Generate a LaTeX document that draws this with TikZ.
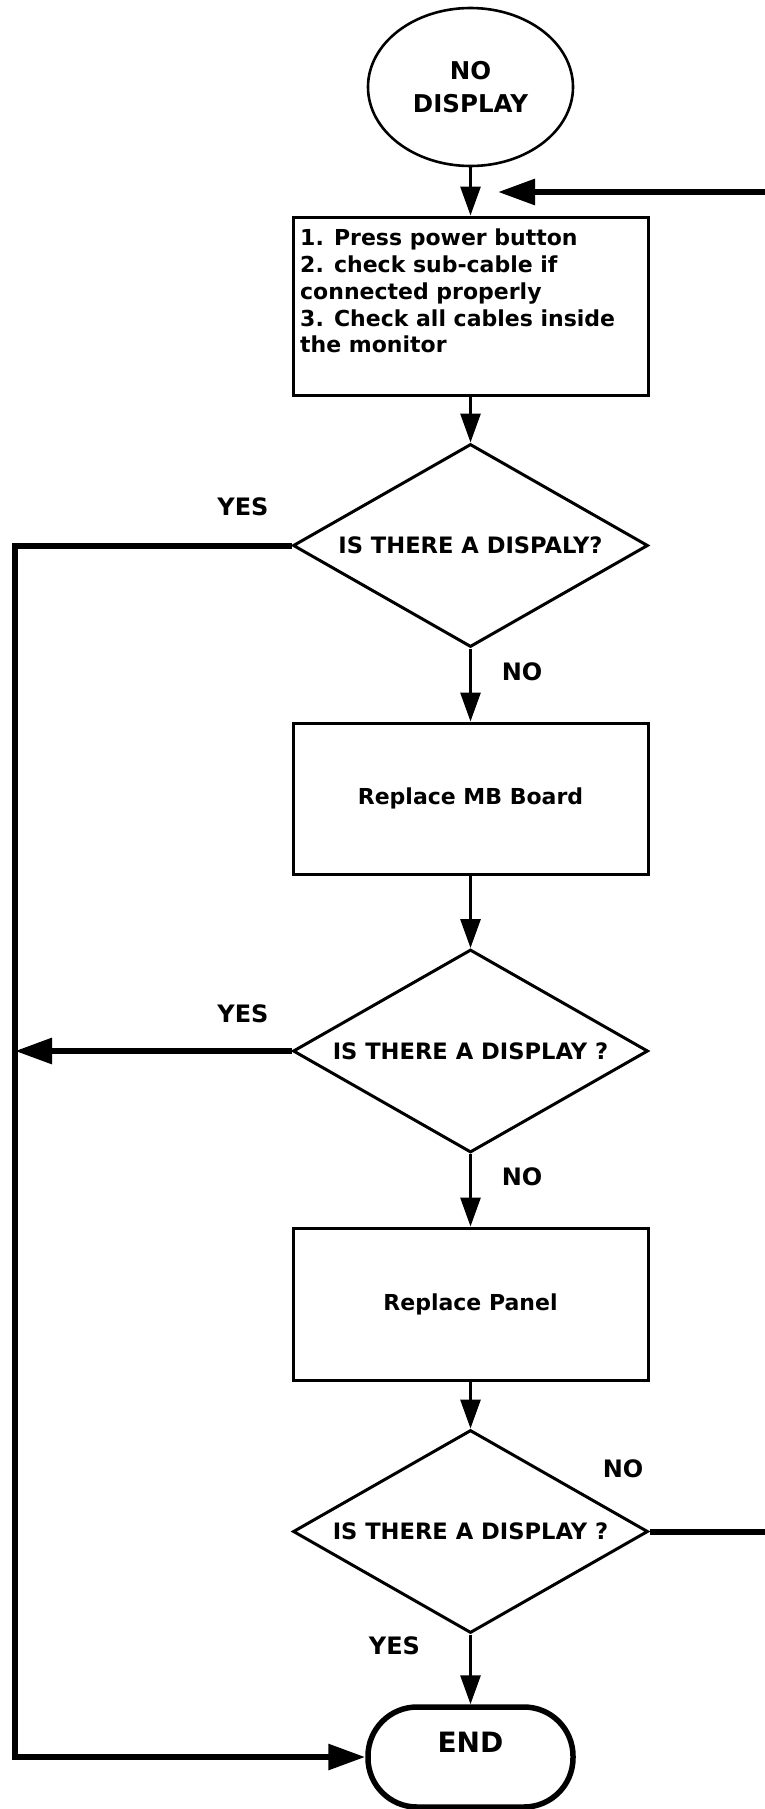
\documentclass[tikz,border=0pt]{standalone}
\usepackage{fontspec}
\setmainfont{DejaVu Sans}
\usetikzlibrary{shapes.geometric,arrows.meta}
\begin{document}
\begin{tikzpicture}[x=1pt,y=-1pt,
  procbox/.style={draw, rectangle, line width=3pt, minimum width=355pt, inner sep=0pt,
    font=\bfseries\fontsize{22}{26.7}\selectfont},
  decision/.style={draw, diamond, aspect=1.75, inner sep=0pt, line width=3pt,
    minimum width=355pt, minimum height=203pt, font=\bfseries\fontsize{22.6}{26}\selectfont},
  startnode/.style={draw, ellipse, line width=2.6pt, minimum width=205pt, minimum height=158pt,
    inner sep=0pt, align=center, font=\bfseries\fontsize{24.5}{33}\selectfont},
  endnode/.style={draw, rectangle, rounded corners=49pt, line width=5.5pt, minimum width=205pt,
    minimum height=100pt, inner sep=0pt, text height=20pt, text depth=30pt,
    font=\bfseries\fontsize{28}{32}\selectfont},
  lbl/.style={inner sep=0pt, font=\bfseries\fontsize{24}{28}\selectfont},
  flowarrow/.style={line width=3pt, -{Triangle[length=29pt,width=20pt]}},
  looparrow/.style={line width=6pt, -{Triangle[length=37pt,width=25pt]}},
  loopline/.style={line width=6pt}]

\fill[white] (0,0) rectangle (765,1809);
\useasboundingbox (0,0) rectangle (765,1809);

% nodes
\node[startnode] (start) at (470.5,87) {NO\\DISPLAY};
\node[procbox, minimum height=178pt] (b1) at (470.5,306) {};
\node[anchor=north west, inner sep=0pt, align=left,
  font=\bfseries\fontsize{22}{26.7}\selectfont] (b1text) at (300,229)
  {1. Press power button\\2. check sub-cable if\\connected properly\\3. Check all cables inside\\the monitor};
\node[decision] (d1) at (470.5,545.5) {IS THERE A DISPALY?};
\node[procbox, minimum height=151pt] (b2) at (470.5,798.5) {Replace MB Board};
\node[decision] (d2) at (470.5,1051) {IS THERE A DISPLAY ?};
\node[procbox, minimum height=152pt] (b3) at (470.5,1304) {Replace Panel};
\node[decision] (d3) at (470.5,1531.5) {IS THERE A DISPLAY ?};
\node[endnode] (end) at (470.5,1757) {END};

% labels
\node[lbl] (yes1) at (243,507) {YES};
\node[lbl] (no1) at (522,671.5) {NO};
\node[lbl] (yes2) at (243,1013.5) {YES};
\node[lbl] (no2) at (522,1177) {NO};
\node[lbl] (no3) at (623,1468.5) {NO};
\node[lbl] (yes3) at (394.5,1645.5) {YES};

% helper coordinates
\coordinate (lcorner) at (15,1757);
\coordinate (rtop) at (770,192);
\coordinate (fbtip) at (498,192);
\coordinate (rbot) at (770,1531.5);

% main flow
\draw[flowarrow] (start.south) -- (b1.north);
\draw[flowarrow] (b1.south) -- (d1.north);
\draw[flowarrow] (d1.south) -- (b2.north);
\draw[flowarrow] (b2.south) -- (d2.north);
\draw[flowarrow] (d2.south) -- (b3.north);
\draw[flowarrow] (b3.south) -- (d3.north);
\draw[flowarrow] (d3.south) -- (end.north);

% loops
\draw[looparrow, line join=miter] (d1.west) -| (lcorner) -- (end.west);
\draw[looparrow] (d2.west) -- (d2.west -| lcorner);
\draw[loopline] (d3.east) -- (rbot);
\draw[looparrow] (rtop) -- (fbtip);
\end{tikzpicture}
\end{document}
